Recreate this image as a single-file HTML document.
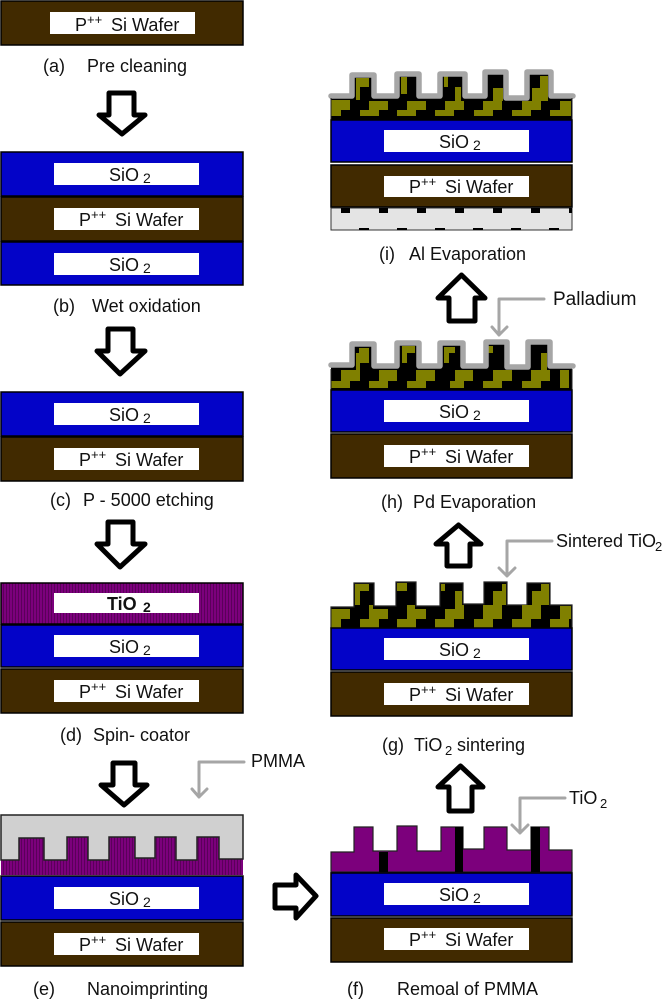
<!DOCTYPE html>
<html><head><meta charset="utf-8"><style>
html,body{margin:0;padding:0;background:#fff}
svg{display:block}
text{font-family:"Liberation Sans",sans-serif;font-size:18px;fill:#111}
.s{font-size:13px}
.a{fill:#fff;stroke:#000;stroke-width:5;stroke-linejoin:round}
.g{fill:none;stroke:#a6a6a6;stroke-width:3;stroke-linejoin:round;stroke-linecap:round}
.p{fill:none;stroke:#a6a6a6;stroke-width:5.5;stroke-linejoin:round;stroke-linecap:round}
.bl{fill:#0303c8;stroke:#000;stroke-width:1.5}
.br{fill:#412a00;stroke:#000;stroke-width:1.5}
.o{fill:#808000}
</style></head><body>
<svg width="666" height="1000" viewBox="0 0 666 1000" xmlns="http://www.w3.org/2000/svg">
<defs>
<pattern id="st" width="3" height="6" patternUnits="userSpaceOnUse"><rect width="3" height="6" fill="#7c007c"/><rect width="1" height="6" fill="#5a005a"/></pattern>
</defs>

<!-- a -->
<rect class="br" x="1" y="1" width="242" height="44"/>
<rect x="50" y="12" width="145" height="22" fill="#fff"/>
<text x="75" y="31">P<tspan class="s" dy="-7">++</tspan><tspan dy="7" x="111">Si Wafer</tspan></text>
<text x="43" y="72">(a)</text><text x="87" y="72">Pre cleaning</text>
<path class="a" d="M109 93V115H99L122 134L145 115H134V93Z"/>

<!-- b -->
<rect class="bl" x="1" y="152" width="242" height="44"/>
<rect class="br" x="1" y="197" width="242" height="44"/>
<rect class="bl" x="1" y="242" width="242" height="43"/>
<rect x="54" y="163" width="145" height="22" fill="#fff"/>
<rect x="54" y="208" width="145" height="22" fill="#fff"/>
<rect x="54" y="253" width="145" height="22" fill="#fff"/>
<text x="109" y="181">SiO</text><text x="143" y="183" style="font-size:14px">2</text>
<text x="79" y="226">P<tspan class="s" dy="-7">++</tspan><tspan dy="7" x="115">Si Wafer</tspan></text>
<text x="109" y="271">SiO</text><text x="143" y="273" style="font-size:14px">2</text>
<text x="53" y="312">(b)</text><text x="92" y="312">Wet oxidation</text>
<path class="a" d="M108 329V351H97L120 374L145 351H133V329Z"/>

<!-- c -->
<rect class="bl" x="1" y="392" width="242" height="44"/>
<rect class="br" x="1" y="437" width="242" height="44"/>
<rect x="54" y="403" width="145" height="22" fill="#fff"/>
<rect x="54" y="448" width="145" height="22" fill="#fff"/>
<text x="109" y="421">SiO</text><text x="143" y="423" style="font-size:14px">2</text>
<text x="79" y="466">P<tspan class="s" dy="-7">++</tspan><tspan dy="7" x="115">Si Wafer</tspan></text>
<text x="50" y="506">(c)</text><text x="83" y="506">P - 5000 etching</text>
<path class="a" d="M108 522V544H97L120 567L145 544H133V522Z"/>

<!-- d -->
<rect x="1" y="583" width="242" height="41" fill="url(#st)" stroke="#000" stroke-width="1.5"/>
<rect class="bl" x="1" y="625" width="242" height="42"/>
<rect class="br" x="1" y="669" width="242" height="44"/>
<rect x="54" y="593" width="145" height="20" fill="#fff"/>
<rect x="54" y="635" width="145" height="22" fill="#fff"/>
<rect x="54" y="680" width="145" height="22" fill="#fff"/>
<text x="107" y="610" style="font-weight:bold">TiO</text><text x="143" y="612" style="font-size:14px;font-weight:bold">2</text>
<text x="109" y="653">SiO</text><text x="143" y="655" style="font-size:14px">2</text>
<text x="79" y="698">P<tspan class="s" dy="-7">++</tspan><tspan dy="7" x="115">Si Wafer</tspan></text>
<text x="60" y="741">(d)</text><text x="93" y="741">Spin- coator</text>
<path class="a" d="M113 763V785H101L124 805L147 785H135V763Z"/>

<!-- e -->
<rect x="1" y="815" width="242" height="60" fill="url(#st)"/>
<path d="M1 815H243V859H219V837H197V860H176V837H155V858H135V837H109V860H88V837H67V860H44V838H19V860H1Z" fill="#d0d0d0" stroke="#222" stroke-width="1.5"/>
<rect class="bl" x="1" y="876" width="242" height="44"/>
<rect class="br" x="1" y="922" width="242" height="44"/>
<rect x="54" y="887" width="145" height="22" fill="#fff"/>
<rect x="54" y="933" width="145" height="22" fill="#fff"/>
<text x="109" y="905">SiO</text><text x="143" y="907" style="font-size:14px">2</text>
<text x="79" y="951">P<tspan class="s" dy="-7">++</tspan><tspan dy="7" x="115">Si Wafer</tspan></text>
<text x="33" y="995">(e)</text><text x="87" y="995">Nanoimprinting</text>
<path class="g" d="M244 762H199V797M192 789L199 797L207 789"/>
<text x="251" y="767">PMMA</text>

<!-- arrow e-f -->
<path class="a" d="M275 885H296V875L316 896L296 918V908H275Z"/>

<!-- f -->
<path d="M331 852H354V827H373V851H397V826H417V851H441V827H463V849H484V827H507V850H531V827H549V850H572V872H331Z" fill="#7c007c" stroke="#222" stroke-width="1.2"/>
<rect x="379" y="852" width="9" height="20" fill="#000"/>
<rect x="455" y="827" width="8" height="45" fill="#000"/>
<rect x="531" y="827" width="9" height="45" fill="#000"/>
<rect class="bl" x="331" y="873" width="241" height="43"/>
<rect class="br" x="331" y="918" width="241" height="44"/>
<rect x="384" y="883" width="145" height="22" fill="#fff"/>
<rect x="384" y="928" width="145" height="22" fill="#fff"/>
<text x="439" y="901">SiO</text><text x="473" y="903" style="font-size:14px">2</text>
<text x="409" y="946">P<tspan class="s" dy="-7">++</tspan><tspan dy="7" x="445">Si Wafer</tspan></text>
<text x="347" y="995">(f)</text><text x="397" y="995">Remoal of PMMA</text>
<path class="a" d="M449 811V787H438L460.500 766L483 787H472V811Z"/>
<path class="g" d="M565 798H520V833M512 825L520 833L528 825"/>
<text x="569" y="804">TiO</text><text x="600" y="808" class="s">2</text>

<!-- g -->
<path d="M331 607H354V583H374V606H396V582H416V606H440V583H463V604H484V582H507V605H527V583H550V605H572V628H331Z" fill="#000" stroke="#222" stroke-width="1.2"/>
<g class="o">
<path d="M331.500 609H350V619H341V628H331.500Z"/>
<path d="M360 628V619H369V605H373V609H388V619H379V628Z"/>
<path d="M397 628V619H407V605H415V609H426V619H416V628Z"/>
<path d="M435 628V619H445V609H455V591H462V605H464V619H454V628Z"/>
<path d="M474 628V619H483V605H493V591H502V584H506V605H502V619H493V628Z"/>
<path d="M512 628V619H522V605H532V591H541V584H549V605H541V619H531V628Z"/>
<path d="M550 628V619H560V606H571V619H569V628Z"/>
<path d="M355 584H369V591H360V605H355Z"/>
<rect x="397" y="583" width="10" height="8"/>
<rect x="441" y="584" width="4" height="7"/>
</g>
<rect class="bl" x="331" y="628" width="241" height="42"/>
<rect class="br" x="331" y="672" width="241" height="44"/>
<rect x="384" y="638" width="145" height="22" fill="#fff"/>
<rect x="384" y="683" width="145" height="22" fill="#fff"/>
<text x="439" y="656">SiO</text><text x="473" y="658" style="font-size:14px">2</text>
<text x="409" y="701">P<tspan class="s" dy="-7">++</tspan><tspan dy="7" x="445">Si Wafer</tspan></text>
<text x="382" y="751">(g)</text><text x="414" y="751">TiO</text><text x="445" y="755" class="s">2</text><text x="457" y="751">sintering</text>
<path class="a" d="M447 566V544H436L458.500 525L481 544H470V566Z"/>
<path class="g" d="M552 541H507V576M499 568L507 576L515 568"/>
<text x="556" y="547">Sintered TiO</text><text x="655" y="551" class="s">2</text>

<!-- h -->
<path d="M331 366H352V344H374V366H397V343H419V366H440V343H463V366H486V342H507V367H528V342H550V366H572V390H331Z" fill="#000"/>
<g class="o">
<path d="M331.500 388V381H341V370H360V381H350V388Z"/>
<path d="M369 388V381H379V370H397V381H388V388Z"/>
<path d="M407 388V381H416V370H435V381H426V388Z"/>
<path d="M450 388V381H455V370H473V381H464V388H450Z"/>
<path d="M483 388V381H493V370H512V381H502V388Z"/>
<path d="M522 388V381H531V370H541V353H547V370H550V381H541V388Z"/>
<path d="M560 388V370H569V388Z"/>
<path d="M356 348H369V363H360V370H356Z"/>
<path d="M402 346H415V353H407V363H402Z"/>
<path d="M444 347H455V353H449V363H444Z"/>
<rect x="488" y="346" width="5" height="7"/>
</g>
<rect x="356" y="348" width="3" height="5" fill="#000"/>
<path class="p" d="M331 365H352V344H374V366H397V343H419V366H440V343H463V366H486V342H507V367H528V342H550V366H573"/>
<path d="M331 369V390M572 369V390" stroke="#222" stroke-width="1"/>
<rect class="bl" x="331" y="390" width="241" height="42"/>
<rect class="br" x="331" y="434" width="241" height="44"/>
<rect x="384" y="400" width="145" height="22" fill="#fff"/>
<rect x="384" y="445" width="145" height="22" fill="#fff"/>
<text x="439" y="418">SiO</text><text x="473" y="420" style="font-size:14px">2</text>
<text x="409" y="463">P<tspan class="s" dy="-7">++</tspan><tspan dy="7" x="445">Si Wafer</tspan></text>
<text x="381" y="508">(h)</text><text x="413" y="508">Pd Evaporation</text>
<path class="a" d="M449 321V298H438L461.500 275L485 298H475V321Z"/>
<path class="g" d="M544 299H499V335M492 327L499 335L507 327"/>
<text x="553" y="305" style="font-size:19px">Palladium</text>

<!-- i -->
<path d="M331 96H352V75H374V96H397V74H419V96H440V74H465V96H485V72H506V98H527V72H551V96H572V120H331Z" fill="#000"/>
<g class="o">
<path d="M331.500 116V100H350V110H341V116Z"/>
<path d="M360 116V110H369V101H388V110H379V116Z"/>
<path d="M397 116V110H407V101H426V110H416V116Z"/>
<path d="M435 116V110H445V101H455V87H461V101H464V110H454V116Z"/>
<path d="M474 116V110H483V101H493V88H503V101H502V110H493V116Z"/>
<path d="M512 116V110H522V101H532V88H540V76H548V101H541V110H531V116Z"/>
<path d="M550 116V110H560V101H571V116Z"/>
<path d="M356 78H369V87H360V100H356Z"/>
<path d="M401 77H407V94H401Z"/>
<rect x="444" y="76" width="4" height="11"/>
</g>
<path class="p" d="M331 96H352V75H374V96H397V74H419V96H440V74H465V96H485V72H506V98H527V72H551V96H573"/>
<path d="M331 98V120M572 98V120" stroke="#222" stroke-width="1"/>
<rect class="bl" x="331" y="120" width="241" height="42"/>
<rect class="br" x="331" y="165" width="241" height="42"/>
<rect x="331" y="208" width="241" height="22" fill="#e4e4e4" stroke="#333" stroke-width="1"/>
<g fill="#000">
<rect x="341" y="208" width="9" height="5"/><rect x="379" y="208" width="9" height="5"/><rect x="417" y="208" width="9" height="5"/><rect x="455" y="208" width="9" height="5"/><rect x="493" y="208" width="9" height="5"/><rect x="531" y="208" width="9" height="5"/><rect x="569" y="208" width="3" height="5"/>
<rect x="359" y="228" width="10" height="2"/><rect x="397" y="228" width="10" height="2"/><rect x="435" y="228" width="10" height="2"/><rect x="473" y="228" width="10" height="2"/><rect x="511" y="228" width="10" height="2"/><rect x="549" y="228" width="10" height="2"/>
</g>
<rect x="384" y="130" width="145" height="22" fill="#fff"/>
<rect x="384" y="176" width="145" height="21" fill="#fff"/>
<text x="439" y="148">SiO</text><text x="473" y="150" style="font-size:14px">2</text>
<text x="409" y="193">P<tspan class="s" dy="-7">++</tspan><tspan dy="7" x="445">Si Wafer</tspan></text>
<text x="379" y="260">(i)</text><text x="409" y="260">Al Evaporation</text>
</svg>
</body></html>
